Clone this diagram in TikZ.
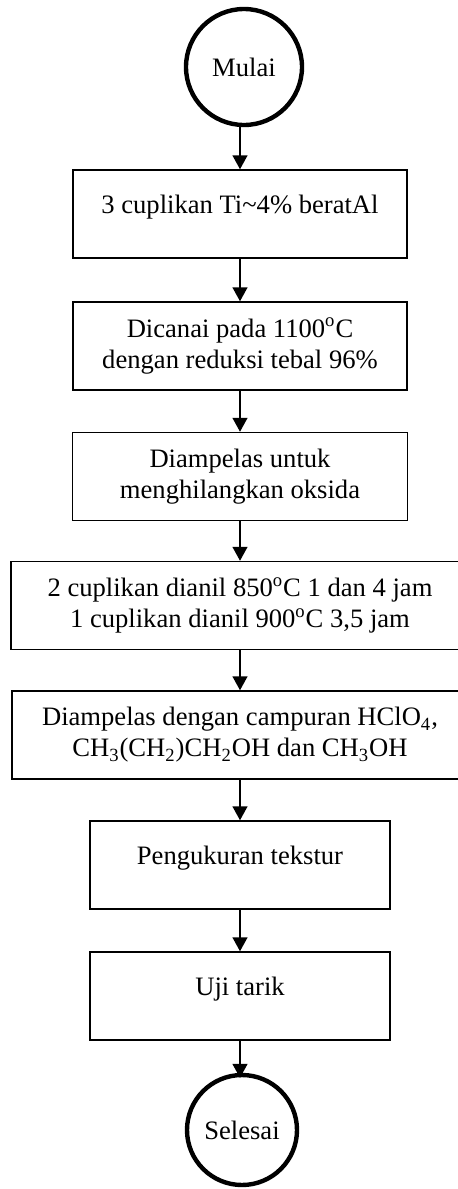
\documentclass[tikz,border=0pt]{standalone}
\usepackage{fontspec}
\setmainfont{Liberation Serif}
\usetikzlibrary{arrows.meta}
\begin{document}
\begin{tikzpicture}[x=0.5pt,y=-0.5pt,
        langkah/.style={draw,line width=0.75pt,align=center,inner sep=0pt,minimum height=44pt,font=\fontsize{13.3}{15.5}\selectfont},
        ujung/.style={draw,circle,line width=2.2pt,inner sep=0pt,font=\fontsize{13.3}{15.5}\selectfont},
        panah/.style={-{Triangle[width=7.5pt,length=7pt]},line width=0.75pt}]
        \useasboundingbox (0,0) rectangle (458,1189);
        \node[ujung,minimum size=58pt] (mulai) at (244,67) {Mulai};
        \node[langkah,minimum width=167pt,text depth=10pt] (cuplikan) at (240,214) {3 cuplikan Ti\textasciitilde4\% beratAl};
        \node[langkah,minimum width=167pt] (canai) at (240,346) {Dicanai pada 1100\textsuperscript{o}C\\dengan reduksi tebal 96\%};
        \node[langkah,minimum width=167.5pt] (amplas) at (240,476.5) {Diampelas untuk\\menghilangkan oksida};
        \node[langkah,minimum width=229pt] (anil) at (240,605.5) {2 cuplikan dianil 850\textsuperscript{o}C 1 dan 4 jam\\1 cuplikan dianil 900\textsuperscript{o}C 3,5 jam};
        \node[langkah,minimum width=228pt] (poles) at (240,735) {Diampelas dengan campuran HClO\textsubscript{4},\\CH\textsubscript{3}(CH\textsubscript{2})CH\textsubscript{2}OH dan CH\textsubscript{3}OH};
        \node[langkah,minimum width=150pt,text depth=10pt] (tekstur) at (240,865) {Pengukuran tekstur};
        \node[langkah,minimum width=150pt,text depth=10pt] (tarik) at (240,996) {Uji tarik};
        \node[ujung,minimum size=55pt] (selesai) at (242,1130) {Selesai};
        \draw[panah] (cuplikan.north |- mulai.south) -- (cuplikan.north);
        \draw[panah] (cuplikan) -- (canai);
        \draw[panah] (canai) -- (amplas);
        \draw[panah] (amplas) -- (anil);
        \draw[panah] (anil) -- (poles);
        \draw[panah] (poles) -- (tekstur);
        \draw[panah] (tekstur) -- (tarik);
        \draw[panah,shorten >=-2.5pt] (tarik.south) -- (tarik.south |- selesai.north);
\end{tikzpicture}
\end{document}
